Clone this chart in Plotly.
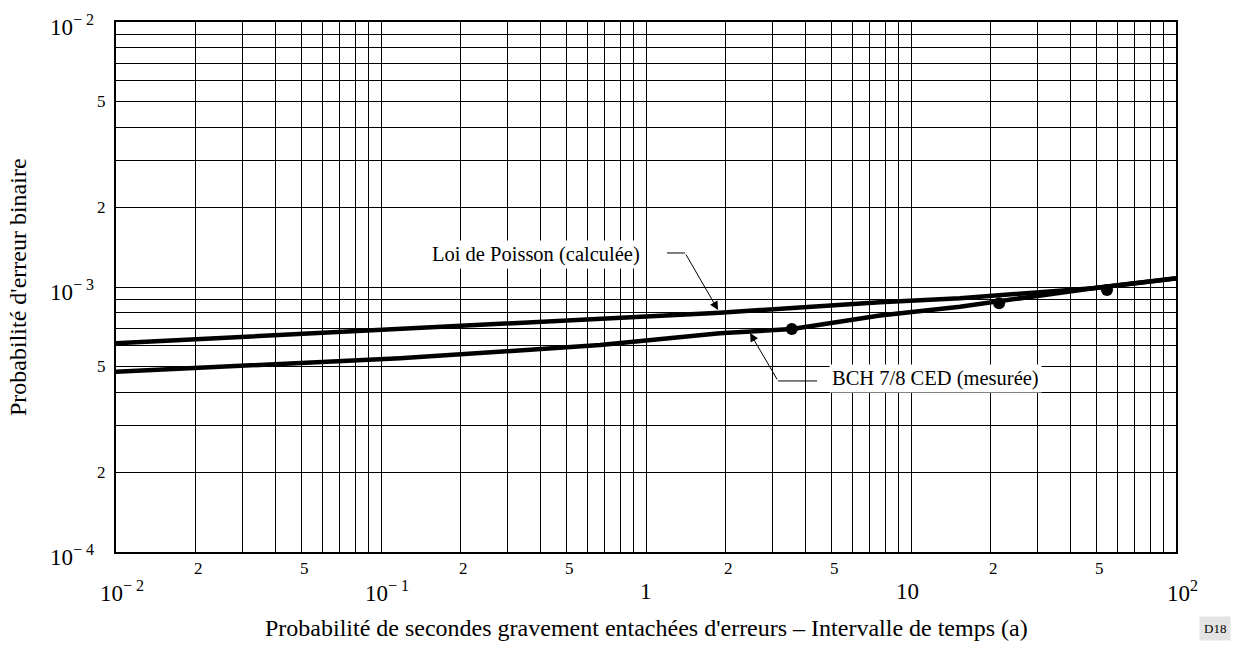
import numpy as np
import plotly.graph_objects as go

# Poisson law (computed) curve
poisson_x = [0.01, 0.1, 0.671, 1.90, 7.64, 15.3, 48.6, 100]
poisson_y = [6.13e-4, 6.90e-4, 7.62e-4, 8.00e-4, 8.76e-4, 9.07e-4, 9.90e-4, 1.078e-3]

# BCH 7/8 CED (measured) fitted curve
bch_x = [0.01, 0.118, 0.671, 1.90, 3.56, 7.64, 15.3, 48.6, 100]
bch_y = [4.79e-4, 5.38e-4, 6.04e-4, 6.69e-4, 6.94e-4, 7.81e-4, 8.43e-4, 9.90e-4, 1.08e-3]

# measured points
meas_x = [3.55, 21.5, 54.9]
meas_y = [6.94e-4, 8.68e-4, 9.74e-4]

# leader lines of the two labels (elbow then arrow tip)
poisson_leader_x = [1.20, 1.404, 1.87]
poisson_leader_y = [1.344e-3, 1.344e-3, 8.19e-4]
bch_leader_x = [4.42, 3.15, 2.47]
bch_leader_y = [4.42e-4, 4.42e-4, 6.70e-4]

x_decades = [-2, -1, 0, 1, 2]
y_decades = [-4, -3, -2]
x_decade_text = ["10<sup>− 2</sup>", "10<sup>− 1</sup>", "1", "10", "10<sup>2</sup>"]
y_decade_text = ["10<sup>− 4</sup>", "10<sup>− 3</sup>", "10<sup>− 2</sup>"]
minor_labels = [2, 5]

FONT = "Liberation Serif, Times New Roman, serif"

def grid_values(decades):
    vals = []
    for d in decades[:-1]:
        for k in range(1, 10):
            vals.append(k * 10.0 ** d)
    vals.append(10.0 ** decades[-1])
    return vals

fig = go.Figure()

fig.add_trace(go.Scatter(x=poisson_x, y=poisson_y, mode="lines",
                         line=dict(color="black", width=4.5), hoverinfo="skip"))
fig.add_trace(go.Scatter(x=bch_x, y=bch_y, mode="lines",
                         line=dict(color="black", width=4.5), hoverinfo="skip"))
fig.add_trace(go.Scatter(x=meas_x, y=meas_y, mode="markers",
                         marker=dict(color="black", size=12), hoverinfo="skip"))
fig.add_trace(go.Scatter(x=poisson_leader_x[:2], y=poisson_leader_y[:2], mode="lines",
                         line=dict(color="black", width=1), hoverinfo="skip"))
fig.add_trace(go.Scatter(x=bch_leader_x[:2], y=bch_leader_y[:2], mode="lines",
                         line=dict(color="black", width=1), hoverinfo="skip"))

annotations = []

# arrows from the elbows to the curves
for lx, ly in [(poisson_leader_x, poisson_leader_y), (bch_leader_x, bch_leader_y)]:
    annotations.append(dict(
        x=np.log10(lx[2]), y=np.log10(ly[2]), xref="x", yref="y",
        ax=np.log10(lx[1]), ay=np.log10(ly[1]), axref="x", ayref="y",
        text="", showarrow=True, arrowhead=2, arrowsize=1.7, arrowwidth=1,
        arrowcolor="black", standoff=0))

# curve labels
annotations.append(dict(x=-0.4151, y=-2.8792, xref="x", yref="y",
                        text="Loi de Poisson (calculée)", showarrow=False,
                        font=dict(family=FONT, size=20.5, color="black"),
                        bgcolor="white", borderpad=2))
annotations.append(dict(x=1.0943, y=-3.3434, xref="x", yref="y",
                        text="BCH 7/8 CED (mesurée)", showarrow=False,
                        font=dict(family=FONT, size=20.5, color="black"),
                        bgcolor="white", borderpad=2))

# x tick labels
for d in x_decades[:-1]:
    for m in minor_labels:
        annotations.append(dict(x=np.log10(m) + d, y=0, xref="x", yref="paper",
                                text=str(m), showarrow=False, yanchor="middle",
                                yshift=-16, xshift=3,
                                font=dict(family=FONT, size=17, color="black")))
for d, t in zip(x_decades, x_decade_text):
    annotations.append(dict(x=d, y=0, xref="x", yref="paper", text=t,
                            showarrow=False, yanchor="middle", yshift=-39,
                            xshift=6 if "sup" in t else (-4 if t == "10" else 0),
                            font=dict(family=FONT, size=23, color="black")))

# y tick labels
for d in y_decades[:-1]:
    for m in minor_labels:
        annotations.append(dict(x=0, y=np.log10(m) + d, xref="paper", yref="y",
                                text=str(m), showarrow=False, xanchor="right",
                                xshift=-8,
                                font=dict(family=FONT, size=17, color="black")))
for d, t in zip(y_decades, y_decade_text):
    annotations.append(dict(x=0, y=d, xref="paper", yref="y", text=t,
                            showarrow=False, xanchor="right", xshift=-20, yshift=-3,
                            font=dict(family=FONT, size=23, color="black")))

# axis titles
annotations.append(dict(x=0.5, y=0, xref="paper", yref="paper",
                        text="Probabilité de secondes gravement entachées d'erreurs – Intervalle de temps (a)",
                        showarrow=False, yanchor="middle", yshift=-76,
                        font=dict(family=FONT, size=24, color="black")))
annotations.append(dict(x=0, y=0.5, xref="paper", yref="paper",
                        text="Probabilité d'erreur binaire", textangle=-90,
                        showarrow=False, xanchor="center", xshift=-98,
                        font=dict(family=FONT, size=24, color="black")))
annotations.append(dict(x=1, y=0, xref="paper", yref="paper", text="D18",
                        showarrow=False, xanchor="center", yanchor="middle",
                        xshift=39, yshift=-76, bgcolor="#e3e3e3", borderpad=4,
                        font=dict(family=FONT, size=13, color="black")))

fig.update_layout(
    width=1233, height=646,
    margin=dict(l=116, r=57, t=22, b=94),
    paper_bgcolor="white", plot_bgcolor="white",
    showlegend=False,
    annotations=annotations,
)
fig.update_xaxes(type="log", range=[-2, 2], tickvals=grid_values(x_decades),
                 showticklabels=False, ticks="", showgrid=True,
                 gridcolor="black", gridwidth=1,
                 showline=True, linecolor="black", linewidth=1.5, mirror=True)
fig.update_yaxes(type="log", range=[-4, -2], tickvals=grid_values(y_decades),
                 showticklabels=False, ticks="", showgrid=True,
                 gridcolor="black", gridwidth=1,
                 showline=True, linecolor="black", linewidth=1.5, mirror=True)

fig.write_html("out.html")
